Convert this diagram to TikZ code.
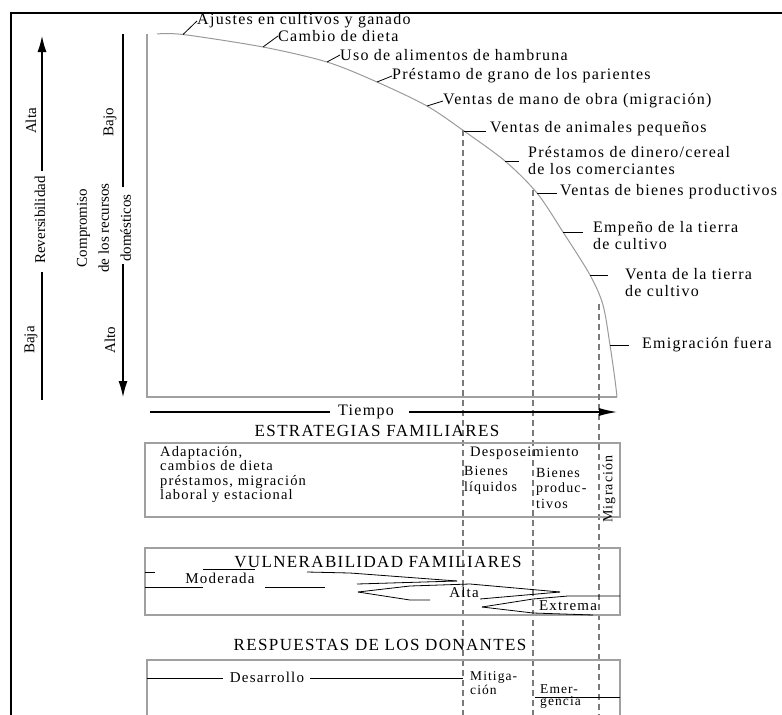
\documentclass[tikz,border=0pt]{standalone}
\usepackage{fontspec}
\setmainfont{Liberation Serif}
\newfontfamily\lsf{Liberation Serif}[LetterSpace=8.0]
\usetikzlibrary{arrows.meta}
\definecolor{axisgray}{HTML}{A0A0A0}
\definecolor{curvegray}{HTML}{9A9A9A}
\definecolor{boxgray}{HTML}{A0A0A0}
\definecolor{dashgray}{HTML}{7A7A7A}
\begin{document}
\begin{tikzpicture}[x=1pt,y=-1pt,
  lbl/.style={font=\lsf\fontsize{16}{17}\selectfont, inner sep=0pt, anchor=west, align=left},
  boxtxt/.style={font=\lsf\fontsize{14.5}{14.3}\selectfont, inner sep=0pt, anchor=west, align=left},
  hdr/.style={font=\lsf\fontsize{17}{19}\selectfont, inner sep=0pt},
  vtxt/.style={font=\fontsize{15}{17}\selectfont, rotate=90, inner sep=0pt},
  axisline/.style={draw=axisgray, line width=1.2pt},
  curveline/.style={draw=curvegray, line width=1pt},
  boxline/.style={draw=boxgray, line width=1.1pt},
  dashline/.style={draw=dashgray, line width=1.1pt, dash pattern=on 6pt off 4pt},
  tick/.style={draw=black, line width=0.8pt},
  blackline/.style={draw=black, line width=1.2pt},
  axarrow/.style={draw=black, line width=1.2pt, -{Latex[length=16pt,width=9pt]}},
  tarrow/.style={draw=black, line width=1.2pt, -{Latex[length=18pt,width=8pt]}},
  wedge/.style={draw=black, line width=0.8pt},
  frameline/.style={draw=black, line width=2.4pt},
  ]
\useasboundingbox (0,0) rectangle (782,715);
% frame
\draw[frameline] (11,720) -- (11,13) -- (790,13);

% left vertical scales
\coordinate (revtop) at (42,36);
\coordinate (revA) at (42,171);
\coordinate (revB) at (42,272);
\coordinate (revbot) at (42,400);
\draw[axarrow] (revA) -- (revtop);
\draw[blackline] (revB) -- (revbot);
\node[vtxt] (rev) at (40,220) {Reversibilidad};
\node[vtxt] (alta) at (31,121) {Alta};
\node[vtxt] (baja) at (31,340) {Baja};

\coordinate (comtop) at (123,34);
\coordinate (comA) at (123,187);
\coordinate (comB) at (123,264);
\coordinate (combot) at (123,397);
\draw[blackline] (comtop) -- (comA);
\draw[axarrow] (comB) -- (combot);
\node[vtxt, align=center, font=\fontsize{15}{22}\selectfont] (comp) at (104,228) {Compromiso\\de los recursos\\domésticos};
\node[vtxt] (bajo) at (110,122) {Bajo};
\node[vtxt] (alto) at (110,340) {Alto};

% graph axes
\coordinate (ytop) at (147,34);
\coordinate (orig) at (147,397);
\coordinate (xend) at (617,397);
\draw[axisline] (ytop) -- (orig) -- (xend);

% curve points
\coordinate (c1) at (183,34.5);
\coordinate (c2) at (263,47);
\coordinate (c3) at (327,62);
\coordinate (c4) at (377,82);
\coordinate (c5) at (427,106);
\coordinate (c6) at (464,131);
\coordinate (c7) at (505,161);
\coordinate (c8) at (537,193);
\coordinate (c9) at (563,232);
\coordinate (c10) at (590,275);
\coordinate (c11) at (610,345);
\draw[curveline] plot[smooth, tension=0.5] coordinates {(157,34) (c1) (c2) (c3) (c4) (c5) (c6) (c7) (c8) (c9) (c10) (603,305) (c11) (615,380) (xend)};

% dashed lines
\coordinate (d1) at (463,130);
\coordinate (d2) at (533,190);
\coordinate (d3) at (599,304);
\coordinate (d1b) at (463,720);
\coordinate (d2b) at (533,720);
\coordinate (d3b) at (599,720);
\draw[dashline] (d1) -- (d1b);
\draw[dashline] (d2) -- (d2b);
\draw[dashline] (d3) -- (d3b);

% curve labels
\node[lbl] (l1) at (197,21) {Ajustes en cultivos y ganado};
\node[lbl] (l2) at (278,36) {Cambio de dieta};
\node[lbl] (l3) at (340,55) {Uso de alimentos de hambruna};
\node[lbl] (l4) at (392,76) {Préstamo de grano de los parientes};
\node[lbl] (l5) at (443,101) {Ventas de mano de obra (migración)};
\node[lbl] (l6) at (490,129) {Ventas de animales pequeños};
\node[lbl] (l7) at (528,161) {Préstamos de dinero/cereal\\de los comerciantes};
\node[lbl] (l8) at (560,192) {Ventas de bienes productivos};
\node[lbl] (l9) at (593,236) {Empeño de la tierra\\de cultivo};
\node[lbl] (l10) at (625,283) {Venta de la tierra\\de cultivo};
\node[lbl] (l11) at (642,345) {Emigración fuera};

\draw[tick] (c1) -- (l1.west);
\draw[tick] (c2) -- (l2.west);
\draw[tick] (c3) -- (l3.west);
\draw[tick] (c4) -- (l4.west);
\draw[tick] (c5) -- (l5.west);
\draw[tick, shorten >=4pt] (c6) -- (c6 -| l6.west);
\draw[tick, shorten >=9pt] (c7) -- (c7 -| l7.west);
\draw[tick, shorten >=3pt] (c8) -- (c8 -| l8.west);
\draw[tick, shorten >=10pt] (c9) -- (c9 -| l9.west);
\draw[tick, shorten >=17pt] (c10) -- (c10 -| l10.west);
\draw[tick, shorten >=13pt] (c11) -- (c11 -| l11.west);

% time arrow
\node[lbl, anchor=center] (tiempo) at (366,412) {Tiempo};
\coordinate (tA) at (150,412);
\coordinate (tB) at (617,412);
\draw[blackline, shorten >=8pt] (tA) -- (tiempo.west);
\draw[tarrow, shorten <=15pt] (tiempo.east) -- (tB);

% box 1: strategies
\node[hdr] (h1) at (377,431) {ESTRATEGIAS FAMILIARES};
\draw[boxline] (145,443) rectangle (620,517);
\node[boxtxt] (adap) at (160,474.5) {Adaptación,\\cambios de dieta\\préstamos, migración\\laboral y estacional};
\node[boxtxt] (desp) at (470,453) {Desposeimiento};
\node[boxtxt, font=\lsf\fontsize{14}{16}\selectfont] (bliq) at (464,480) {Bienes\\líquidos};
\node[boxtxt, font=\lsf\fontsize{14}{15.5}\selectfont] (bprod) at (536,488) {Bienes\\produc-\\tivos};
\node[boxtxt, anchor=center, rotate=90, font=\lsf\fontsize{14}{15}\selectfont] (migr) at (609,489) {Migración};

% box 2: vulnerability
\node[hdr] (h2) at (378,562) {VULNERABILIDAD FAMILIARES};
\draw[boxline] (145,548) rectangle (620,615);
\node[boxtxt, anchor=center, font=\lsf\fontsize{15}{17}\selectfont] (mod) at (220,578) {Moderada};
\node[boxtxt, anchor=center, font=\lsf\fontsize{15}{17}\selectfont] (alt) at (464,592) {Alta};
\node[boxtxt, anchor=center, font=\lsf\fontsize{15}{17}\selectfont] (ext) at (568,606) {Extrema};
% moderada band
\draw[wedge] (145,572) -- (155,572);
\draw[wedge] (203,569) -- (255,569);
\draw[wedge] (307,572) -- (350,573) -- (457,581);
\draw[wedge] (145,587) -- (203,587);
\draw[wedge] (265,587) -- (325,587);
\draw[wedge] (357,584) -- (457,581);
% alta band
\draw[wedge] (358,592) -- (410,586) -- (470,584) -- (560,592);
\draw[wedge] (358,592) -- (410,600) -- (430,600);
\draw[wedge] (480,599) -- (560,592);
% extrema band
\draw[wedge] (482,607) -- (533,599) -- (568,596) -- (620,596);
\draw[wedge] (482,607) -- (533,613) -- (593,615);

% box 3: donors
\node[hdr] (h3) at (380,645) {RESPUESTAS DE LOS DONANTES};
\draw[boxline] (147,720) -- (147,660) -- (620,660) -- (620,720);
\node[boxtxt, anchor=center, font=\lsf\fontsize{15}{17}\selectfont] (desa) at (267,677) {Desarrollo};
\coordinate (dl) at (147,678);
\coordinate (dr) at (463,678);
\draw[blackline, line width=1pt, shorten >=7pt] (dl) -- (dl -| desa.west);
\draw[blackline, line width=1pt, shorten <=6pt] (dr -| desa.east) -- (dr);
\node[boxtxt, font=\lsf\fontsize{13.5}{11}\selectfont] (miti) at (470,683) {Mitiga-\\ción};
\node[boxtxt, font=\lsf\fontsize{13.5}{12}\selectfont] (emer) at (540,697) {Emer-\\gencia};
\coordinate (el) at (535,697);
\coordinate (er) at (620,697);
\draw[blackline, line width=1pt] (el) -- (er);
\end{tikzpicture}
\end{document}
